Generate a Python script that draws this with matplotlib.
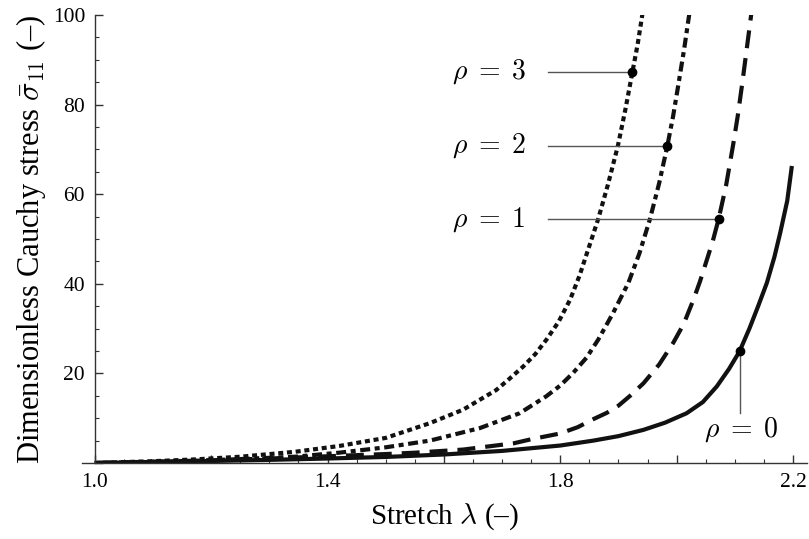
import matplotlib.pyplot as plt
from matplotlib.ticker import MultipleLocator, FixedLocator

plt.rcParams['font.family'] = ['Liberation Serif', 'DejaVu Serif']
plt.rcParams['mathtext.fontset'] = 'cm'

# 曲线数据: 拉伸比 lambda 与无量纲 Cauchy 应力
lam_rho0 = [1.0, 1.1, 1.2, 1.3, 1.4, 1.5, 1.6, 1.7, 1.8, 1.857, 1.9, 1.943, 1.98, 2.017, 2.045,
            2.069, 2.09, 2.108, 2.125, 2.14, 2.155, 2.168, 2.178, 2.19, 2.198]
sig_rho0 = [0.0, 0.2, 0.45, 0.7, 1.0, 1.35, 1.9, 2.7, 3.9, 5.0, 6.0, 7.4, 9.0, 11.1, 13.6,
            17.1, 21.0, 24.9, 30.0, 35.0, 40.2, 46.0, 51.4, 58.5, 66.3]

lam_rho1 = [1.0, 1.1, 1.2, 1.3, 1.4, 1.5, 1.55, 1.633, 1.72, 1.75, 1.8, 1.83, 1.857, 1.88, 1.90, 1.92,
            1.943, 1.97, 1.994, 2.012, 2.029, 2.04, 2.052, 2.062, 2.072, 2.085, 2.097, 2.105, 2.113,
            2.12, 2.127, 2.129]
sig_rho1 = [0.0, 0.3, 0.6, 1.0, 1.5, 2.0, 2.3, 3.0, 4.4, 5.3, 6.6, 8.0, 9.8, 11.2, 12.8, 15.0,
            17.8, 22.0, 26.8, 31.0, 36.5, 40.5, 45.4, 49.5, 54.4, 62.0, 71.0, 77.5, 85.0,
            92.0, 99.0, 101.0]

lam_rho2 = [1.0, 1.1, 1.2, 1.344, 1.42, 1.5, 1.576, 1.662, 1.73, 1.776, 1.8, 1.822, 1.845, 1.865,
            1.89, 1.917, 1.936, 1.954, 1.97, 1.984, 1.994, 2.003, 2.013, 2.022]
sig_rho2 = [0.0, 0.25, 0.6, 1.4, 2.3, 3.5, 5.0, 7.8, 11.1, 14.9, 17.3, 20.1, 23.5, 27.5,
            33.3, 40.2, 46.8, 54.4, 62.5, 70.8, 77.5, 84.5, 92.5, 100.5]

lam_rho3 = [1.0, 1.1, 1.172, 1.25, 1.344, 1.42, 1.5, 1.576, 1.633, 1.69, 1.71, 1.736, 1.757, 1.776,
            1.797, 1.817, 1.833, 1.848, 1.865, 1.882, 1.899, 1.912, 1.924, 1.933, 1.9415]
sig_rho3 = [0.0, 0.4, 0.8, 1.4, 2.5, 3.8, 5.6, 8.9, 11.9, 16.3, 18.5, 21.5, 24.3, 27.5,
            31.5, 36.5, 41.8, 47.7, 54.4, 62.2, 70.8, 79.0, 87.3, 93.5, 100.5]

# 标注点
rho_labels = ['$\\rho\\;=\\;0$', '$\\rho\\;=\\;1$', '$\\rho\\;=\\;2$', '$\\rho\\;=\\;3$']
mark_lam = [2.108, 2.072, 1.984, 1.924]
mark_sig = [24.9, 54.4, 70.8, 87.3]

fig = plt.figure(figsize=(8.09, 5.39), dpi=100)
ax = fig.add_axes([82 / 809, 76 / 539, 725 / 809, 448 / 539])

lw = 3.0
col = '#111111'
ax.plot(lam_rho0, sig_rho0, color=col, lw=lw, solid_capstyle='butt', solid_joinstyle='round')
ax.plot(lam_rho1, sig_rho1, color=col, lw=lw, dashes=(4.3, 2.4), dash_capstyle='butt')
ax.plot(lam_rho2, sig_rho2, color=col, lw=lw, dashes=(2.4, 1.1, 1.2, 1.1), dash_capstyle='butt')
ax.plot(lam_rho3, sig_rho3, color=col, lw=lw, dashes=(1.2, 0.9), dash_capstyle='butt')

# 引线和文字
gray = '#555555'
for i in range(1, 4):
    ax.plot([1.779, mark_lam[i]], [mark_sig[i], mark_sig[i]], color=gray, lw=1.0, zorder=3)
    ax.text(1.677, mark_sig[i], rho_labels[i], fontsize=20, ha='center', va='center')
ax.plot([mark_lam[0], mark_lam[0]], [mark_sig[0], 11.1], color=gray, lw=1.0, zorder=3)
ax.text(2.11, 7.4, rho_labels[0], fontsize=20, ha='center', va='center')
ax.plot(mark_lam, mark_sig, 'o', color='black', ms=6, zorder=4)

# 坐标轴
ax.set_xlim(0.978, 2.224)
ax.set_ylim(0, 100)
ax.spines['top'].set_visible(False)
ax.spines['right'].set_visible(False)
ax.spines['left'].set_position(('data', 1.0))
ax.spines['left'].set_bounds(0, 100)
for s in ['left', 'bottom']:
    ax.spines[s].set_color('#333333')
    ax.spines[s].set_linewidth(1.0)

ax.xaxis.set_major_locator(FixedLocator([1.0, 1.2, 1.4, 1.6, 1.8, 2.0, 2.2]))
ax.xaxis.set_minor_locator(MultipleLocator(0.05))
ax.set_xticklabels(['1.0', '', '1.4', '', '1.8', '', '2.2'])
ax.yaxis.set_major_locator(FixedLocator([0, 20, 40, 60, 80, 100]))
ax.yaxis.set_minor_locator(MultipleLocator(5))
ax.set_yticklabels(['', '20', '40', '60', '80', '100'])
ax.tick_params(which='both', direction='in', color='#333333', labelsize=15.5)
ax.tick_params(which='major', length=6, width=1.0, pad=7)
ax.tick_params(which='minor', length=3, width=0.8)

ax.set_xlabel('Stretch $\\lambda$ (–)', fontsize=21, labelpad=7)
ax.set_ylabel('Dimensionless Cauchy stress $\\bar{\\sigma}_{11}$ (–)', fontsize=22)
ax.yaxis.set_label_coords(-0.047, 0.5)

plt.savefig('out.png', dpi=100)
